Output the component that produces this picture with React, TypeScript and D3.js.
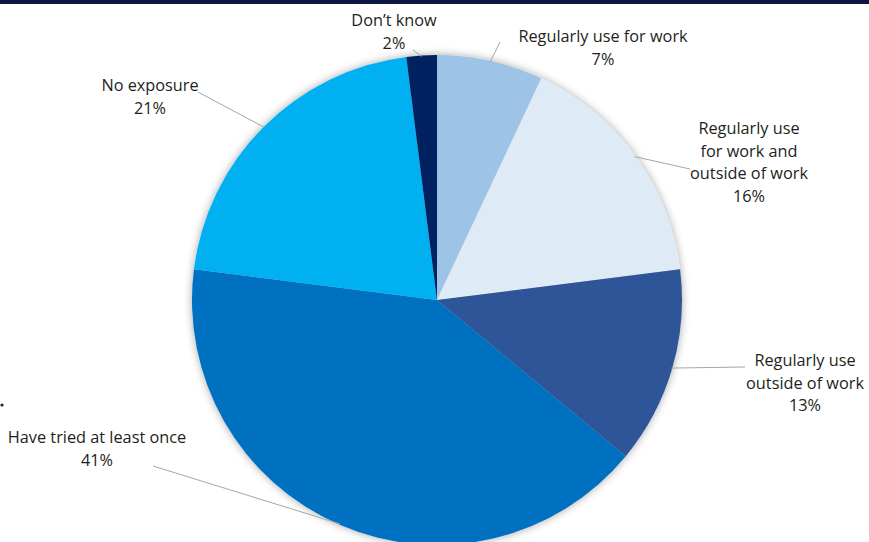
import React from "react";
import * as d3 from "d3";

const categories = [
  "Regularly use for work",
  "Regularly use for work and outside of work",
  "Regularly use outside of work",
  "Have tried at least once",
  "No exposure",
  "Don\u2019t know",
];
const values = [7, 16, 13, 41, 21, 2];
const labelLines = [
  ["Regularly use for work", "7%"],
  ["Regularly use", "for work and", "outside of work", "16%"],
  ["Regularly use", "outside of work", "13%"],
  ["Have tried at least once", "41%"],
  ["No exposure", "21%"],
  ["Don\u2019t know", "2%"],
];
const colors = ["#9dc3e6", "#deebf7", "#2f5597", "#0070c0", "#00b0f0", "#002060"];

// layout: label text center x, first baseline y, leader end point
const labelLayout = [
  { x: 603, y: 42, lx: 500, ly: 42 },
  { x: 749, y: 134, lx: 690, ly: 169 },
  { x: 805, y: 366, lx: 745, ly: 367 },
  { x: 97, y: 443, lx: 153, ly: 466 },
  { x: 150, y: 91, lx: 198, ly: 92 },
  { x: 394, y: 26, lx: 413, ly: 50 },
];

const W = 869;
const H = 542;
const cx = 437;
const cy = 300;
const R = 245;

export default function App() {
  const pie = d3.pie<number>().sort(null).value((d) => d)(values);
  const arc = d3.arc<d3.PieArcDatum<number>>().innerRadius(0).outerRadius(R);
  const lineH = 22.5;
  return (
    <svg
      width={W}
      height={H}
      style={{ position: "absolute", left: 0, top: 0, background: "#fff" }}
      fontFamily="'Open Sans', 'Noto Sans', sans-serif"
    >
      <defs>
        <filter id="sh" x="-20%" y="-20%" width="140%" height="140%">
          <feDropShadow dx="0" dy="0" stdDeviation="4" floodColor="#000" floodOpacity="0.35" />
        </filter>
      </defs>
      <rect x={0} y={0} width={W} height={4} fill="#0c1640" />
      <g transform={`translate(${cx},${cy})`} filter="url(#sh)">
        {pie.map((p, i) => (
          <path key={categories[i]} d={arc(p) || ""} fill={colors[i]} />
        ))}
      </g>
      {pie.map((p, i) => {
        const mid = (p.startAngle + p.endAngle) / 2;
        const px = cx + Math.sin(mid) * (R - 1);
        const py = cy - Math.cos(mid) * (R - 1);
        const L = labelLayout[i];
        return (
          <g key={"l" + i}>
            <line x1={px} y1={py} x2={L.lx} y2={L.ly} stroke="#a6a6a6" strokeWidth={1} />
            <text textAnchor="middle" fontSize={16.3} fill="#231f20">
              {labelLines[i].map((t, j) => (
                <tspan key={j} x={L.x} y={L.y + j * lineH}>
                  {t}
                </tspan>
              ))}
            </text>
          </g>
        );
      })}
      <circle cx={2} cy={405} r={1.6} fill="#231f20" />
    </svg>
  );
}
